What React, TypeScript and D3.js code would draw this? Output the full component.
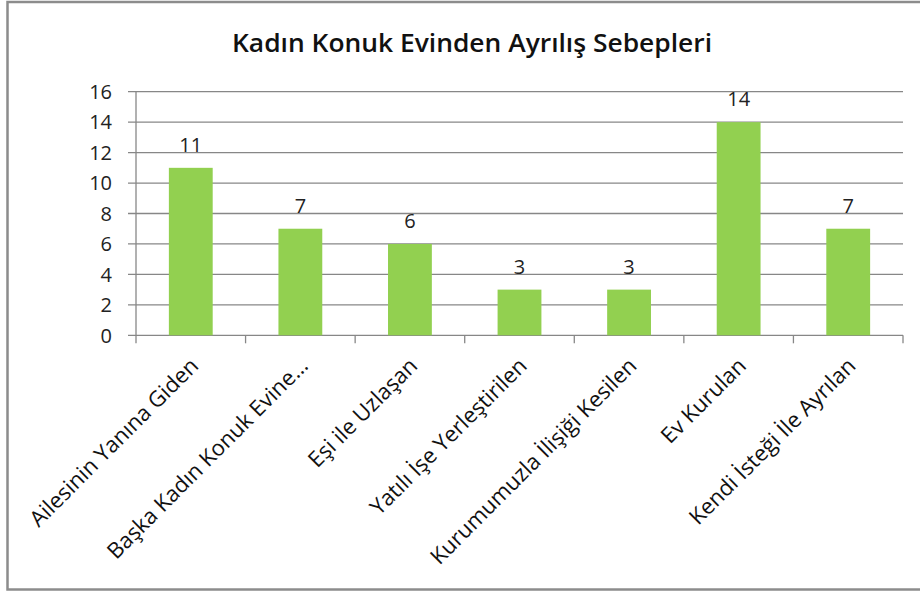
import React from "react";
import * as d3 from "d3";

const categories = [
  "Ailesinin Yanına Giden",
  "Başka Kadın Konuk Evine…",
  "Eşi ile Uzlaşan",
  "Yatılı İşe Yerleştirilen",
  "Kurumumuzla İlişiği Kesilen",
  "Ev Kurulan",
  "Kendi İsteği İle Ayrılan",
];
const values = [11, 7, 6, 3, 3, 14, 7];
const yTicks = [0, 2, 4, 6, 8, 10, 12, 14, 16];
const title = "Kadın Konuk Evinden Ayrılış Sebepleri";

const W = 920;
const H = 593;
const left = 136;
const right = 903;
const top = 91.7;
const bottom = 335.3;
const FONT = "'Open Sans', 'Noto Sans', sans-serif";

export default function App() {
  const x = d3.scaleBand<string>().domain(categories).range([left, right]).paddingInner(0.6).paddingOuter(0.3);
  const band = d3.scaleBand<string>().domain(categories).range([left, right]).padding(0);
  const y = d3.scaleLinear().domain([0, 16]).range([bottom, top]);
  const grid = "#878787";
  return (
    <svg width={W} height={H} style={{ position: "absolute", left: 0, top: 0, background: "#fff" }}>
      <rect x={7.5} y={2} width={930} height={587.5} fill="#fff" stroke="#8c8c8c" strokeWidth={2.5} />
      <text x={472} y={52} textAnchor="middle" fontFamily={FONT} fontWeight={600} fontSize={25} textLength={480} lengthAdjust="spacingAndGlyphs" fill="#111">
        {title}
      </text>
      {yTicks.map((t) => (
        <g key={t}>
          <line x1={left - 8} x2={right} y1={y(t)} y2={y(t)} stroke={grid} strokeWidth={1.3} />
          <text x={112} y={y(t)} dy="0.36em" textAnchor="end" fontFamily={FONT} fontSize={20} fill="#222">
            {t}
          </text>
        </g>
      ))}
      <line x1={left} x2={left} y1={top} y2={bottom} stroke={grid} strokeWidth={1.3} />
      {categories.map((c) => (
        <line key={"t" + c} x1={band(c)!} x2={band(c)!} y1={bottom} y2={bottom + 8} stroke={grid} strokeWidth={1.3} />
      ))}
      <line x1={right} x2={right} y1={bottom} y2={bottom + 8} stroke={grid} strokeWidth={1.3} />
      {categories.map((c, i) => (
        <g key={c}>
          <rect x={x(c)!} y={y(values[i])} width={x.bandwidth()} height={bottom - y(values[i])} fill="#92D050" />
          <text x={x(c)! + x.bandwidth() / 2} y={y(values[i]) - 16} textAnchor="middle" fontFamily={FONT} fontSize={20} fill="#222">
            {values[i]}
          </text>
          <text
            transform={`translate(${band(c)! + band.bandwidth() / 2 - 2},${bottom + 21}) rotate(-45)`}
            textAnchor="end"
            dy="0.7em"
            fontFamily={FONT}
            fontSize={22}
            fill="#111"
          >
            {c}
          </text>
        </g>
      ))}
    </svg>
  );
}
